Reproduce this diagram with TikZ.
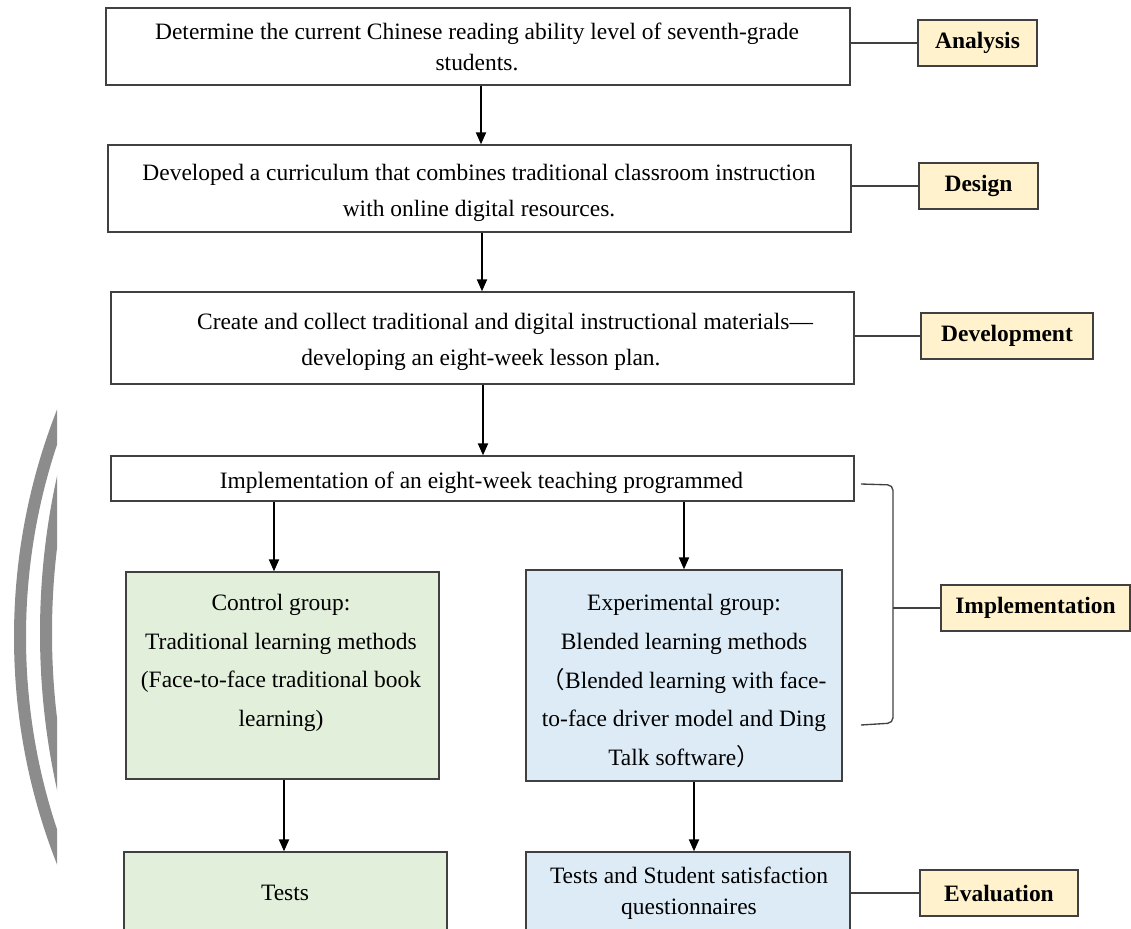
\documentclass[tikz,border=0pt]{standalone}
\usepackage{fontspec}
\setmainfont{Liberation Serif}
\newfontfamily\cjk{Noto Sans CJK SC}
\usetikzlibrary{fit,arrows.meta}

\definecolor{edge}{HTML}{404040}
\definecolor{ctrlfill}{HTML}{E2EFDA}
\definecolor{expfill}{HTML}{DDEBF7}
\definecolor{tagfill}{HTML}{FFF2CC}
\definecolor{arcgray}{HTML}{8C8C8C}

\begin{document}
\begin{tikzpicture}[x=0.75pt,y=-0.75pt,
  box/.style={draw=edge, line width=1pt, inner sep=0pt, fill=white},
  ctrl/.style={box, fill=ctrlfill},
  expt/.style={box, fill=expfill},
  tag/.style={draw=edge, line width=1pt, inner sep=0pt, fill=tagfill,
              minimum height=34.5pt,
              font=\fontsize{17.6}{20}\selectfont\bfseries},
  txt/.style={align=center, inner sep=0pt},
  flow/.style={line width=1.5pt, -{Triangle[length=9pt,width=7.5pt]}},
  link/.style={draw=edge, line width=1pt},
]
\useasboundingbox (0,0) rectangle (1131,928);
\clip (0,0) rectangle (1131,928);

% watermark arcs on the left margin
\begin{scope}
  \clip (0,0) rectangle (57,928);
  \draw[arcgray, line width=9pt] (634,637) circle[radius=460.5pt];
  \draw[arcgray, line width=9pt] (764,633) circle[radius=538.5pt];
\end{scope}

% process boxes
\node[box, fit={(106,8) (850,85)}] (analysisbox) {};
\node[txt, font=\fontsize{17.6}{23}\selectfont] (analysistext) at (477,47)
  {Determine the current Chinese reading ability level of seventh-grade\\students.};

\node[box, fit={(108,145) (851,232)}] (designbox) {};
\node[txt, font=\fontsize{17.6}{27}\selectfont] (designtext) at (479,193)
  {Developed a curriculum that combines traditional classroom instruction\\with online digital resources.};

\node[box, fit={(111,292) (854,384)}] (devbox) {};
\node[txt, font=\fontsize{17.6}{27}\selectfont] (devtext) at (481,342)
  {\hspace*{36pt}Create and collect traditional and digital instructional materials—\\developing an eight-week lesson plan.};

\node[box, fit={(111,456) (854,501)}] (implbox) {};
\node[txt, font=\fontsize{17.6}{27}\selectfont] (impltext) at (481.5,483)
  {Implementation of an eight-week teaching programmed};

\node[ctrl, fit={(126,572) (439,779)}] (ctrlbox) {};
\node[txt, font=\fontsize{17.6}{29}\selectfont] (ctrltext) at (281,663)
  {Control group:\\Traditional learning methods\\(Face-to-face traditional book\\learning)};

\node[expt, fit={(526,570) (842,781)}] (expbox) {};
\node[txt, font=\fontsize{17.6}{29}\selectfont] (exptext) at (684,681)
  {Experimental group:\\Blended learning methods\\{\cjk （}Blended learning with face-\\to-face driver model and Ding\\Talk software{\cjk ）}};

\node[ctrl, fit={(124,852) (447,960)}] (ctrltests) {};
\node[txt, font=\fontsize{17.6}{23}\selectfont] (ctrltestslabel) at (285,893) {Tests};

\node[expt, fit={(526,852) (850,960)}] (exptests) {};
\node[txt, font=\fontsize{17.6}{23}\selectfont] (exptestslabel) at (689,893)
  {Tests and Student satisfaction\\questionnaires};

% phase tags
\node[tag, minimum width=89.25pt] (analysistag) at (977.5,43) {Analysis};
\node[tag, minimum width=89.25pt] (designtag) at (978.5,186) {Design};
\node[tag, minimum width=129pt] (devtag) at (1007,336) {Development};
\node[tag, minimum width=141.75pt] (impltag) at (1035.5,608) {Implementation};
\node[tag, minimum width=118.5pt] (evaltag) at (999,893) {Evaluation};

% tag links
\draw[link] (analysisbox.east |- analysistag.west) -- (analysistag.west);
\draw[link] (designbox.east |- designtag.west) -- (designtag.west);
\draw[link] (devbox.east |- devtag.west) -- (devtag.west);
\draw[link] (exptests.east |- evaltag.west) -- (evaltag.west);

% bracket grouping the implementation stage
\coordinate (bracetop) at (861,484);
\coordinate (bracebot) at (861,725);
\coordinate (bracemid) at (893,608);
\draw[link, rounded corners=4pt] (bracetop) -- (893,485) -- (893,723) -- (bracebot);
\draw[link] (bracemid) -- (bracemid -| impltag.west);

% flow arrows
\coordinate (firstx) at (481,0);
\coordinate (secondx) at (482,0);
\coordinate (thirdx) at (483,0);
\coordinate (ctrlx) at (274,0);
\coordinate (expx) at (684,0);
\coordinate (ctrldown) at (284,0);
\coordinate (expdown) at (694,0);
\draw[flow] (analysisbox.south -| firstx) -- (designbox.north -| firstx);
\draw[flow] (designbox.south -| secondx) -- (devbox.north -| secondx);
\draw[flow] (devbox.south -| thirdx) -- (implbox.north -| thirdx);
\draw[flow] (implbox.south -| ctrlx) -- (ctrlbox.north -| ctrlx);
\draw[flow] (implbox.south -| expx) -- (expbox.north -| expx);
\draw[flow] (ctrlbox.south -| ctrldown) -- (ctrltests.north -| ctrldown);
\draw[flow] (expbox.south -| expdown) -- (exptests.north -| expdown);
\end{tikzpicture}
\end{document}
